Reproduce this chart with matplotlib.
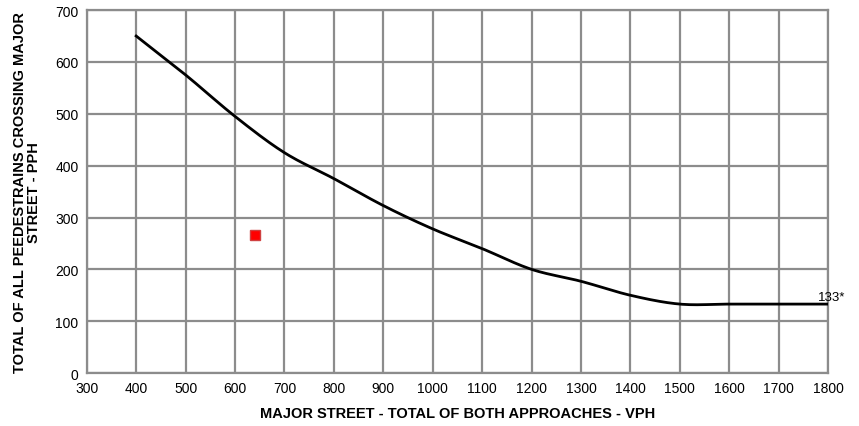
import numpy as np
import matplotlib
matplotlib.use("Agg")
import matplotlib.pyplot as plt

plt.rcParams['font.family'] = ['Liberation Sans', 'DejaVu Sans']

# Warrant curve: major street volume (vph) vs pedestrian volume (pph)
major_vph = [400, 500, 600, 700, 800, 900, 1000, 1100, 1200, 1300, 1400, 1500, 1600, 1700, 1800]
ped_pph = [650, 575, 495, 425, 375, 323, 278, 240, 200, 177, 150, 133, 133, 133, 133]

# Observed count
obs_vph = [640]
obs_pph = [267]

x_ticks = list(range(300, 1900, 100))
y_ticks = list(range(0, 800, 100))


def smooth(xs, ys, n=20):
    """Catmull-Rom style smoothing through the given points."""
    xs = np.asarray(xs, float)
    ys = np.asarray(ys, float)
    px = np.concatenate([[xs[0]], xs, [xs[-1]]])
    py = np.concatenate([[ys[0]], ys, [ys[-1]]])
    out_x, out_y = [], []
    t = np.linspace(0, 1, n, endpoint=False)
    for i in range(1, len(px) - 2):
        p0, p1, p2, p3 = (np.array([px[j], py[j]]) for j in (i - 1, i, i + 1, i + 2))
        m1 = (p2 - p0) / 6.0
        m2 = (p3 - p1) / 6.0
        c1 = p1 + m1
        c2 = p2 - m2
        for tt in t:
            b = ((1 - tt) ** 3) * p1 + 3 * ((1 - tt) ** 2) * tt * c1 + 3 * (1 - tt) * tt ** 2 * c2 + tt ** 3 * p2
            out_x.append(b[0])
            out_y.append(b[1])
    out_x.append(xs[-1])
    out_y.append(ys[-1])
    return out_x, out_y


fig = plt.figure(figsize=(8.59, 4.27), dpi=100)
ax = fig.add_axes([0.101, 0.124, 0.863, 0.850])

sx, sy = smooth(major_vph, ped_pph)
ax.plot(sx, sy, color='black', lw=2.0, zorder=3)
ax.plot(obs_vph, obs_pph, 's', color='#ff0000', markeredgecolor='#d04040',
        markersize=7.5, markeredgewidth=1.0, zorder=4)

ax.text(major_vph[-1] + 8, ped_pph[-1] + 3, f"{ped_pph[-1]}*", fontsize=9.5,
        ha='center', va='bottom', clip_on=False)

ax.set_xlim(300, 1800)
ax.set_ylim(0, 700)
ax.set_xticks(x_ticks)
ax.set_yticks(y_ticks)
ax.tick_params(length=0, labelsize=10, pad=6)
ax.grid(True, color='#8c8c8c', lw=1.6)
ax.set_axisbelow(True)
for s in ax.spines.values():
    s.set_color('#8c8c8c')
    s.set_linewidth(1.6)

ax.set_xlabel("MAJOR STREET - TOTAL OF BOTH APPROACHES - VPH", fontsize=10.5,
              fontweight='bold', labelpad=8)
ax.set_ylabel("TOTAL OF ALL PEEDESTRAINS CROSSING MAJOR\nSTREET - PPH", fontsize=10.5,
              fontweight='bold', labelpad=10, linespacing=1.0)

fig.savefig("out.png", dpi=100)
